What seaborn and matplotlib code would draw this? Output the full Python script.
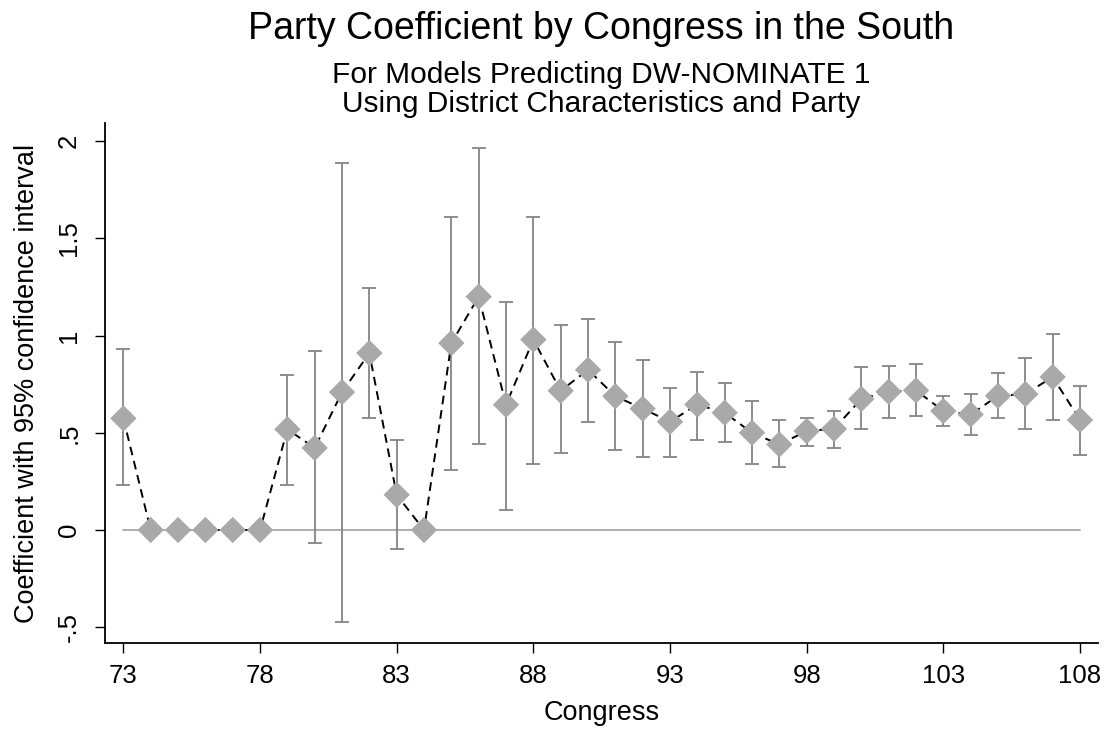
import numpy as np
import seaborn as sns
import matplotlib.pyplot as plt

# Congress numbers and estimated party coefficients
congress = list(range(73, 109))
coef = [0.574, 0, 0, 0, 0, 0, 0.518, 0.422, 0.709, 0.910, 0.181, 0,
        0.961, 1.200, 0.644, 0.979, 0.716, 0.824, 0.688, 0.624, 0.557, 0.645,
        0.603, 0.500, 0.440, 0.509, 0.520, 0.674, 0.711, 0.718, 0.612, 0.594,
        0.690, 0.699, 0.787, 0.566]
nan = np.nan
ci_low = [0.230, nan, nan, nan, nan, nan, 0.230, -0.067, -0.472, 0.574, -0.098, nan,
          0.307, 0.441, 0.105, 0.337, 0.394, 0.555, 0.411, 0.374, 0.374, 0.461,
          0.450, 0.337, 0.326, 0.431, 0.422, 0.518, 0.576, 0.585, 0.537, 0.489,
          0.576, 0.518, 0.566, 0.385]
ci_high = [0.931, nan, nan, nan, nan, nan, 0.796, 0.920, 1.887, 1.246, 0.461, nan,
           1.608, 1.965, 1.170, 1.608, 1.053, 1.083, 0.966, 0.872, 0.730, 0.814,
           0.757, 0.661, 0.566, 0.576, 0.613, 0.837, 0.844, 0.853, 0.690, 0.699,
           0.805, 0.885, 1.007, 0.739]
xticks = [73, 78, 83, 88, 93, 98, 103, 108]
yticks = [-0.5, 0, 0.5, 1, 1.5, 2]
ytick_labels = ["-.5", "0", ".5", "1", "1.5", "2"]

sns.set_style("white")
plt.rcParams['font.family'] = ['Liberation Sans', 'DejaVu Sans']
plt.rcParams['text.color'] = 'black'
plt.rcParams['axes.labelcolor'] = 'black'
plt.rcParams['xtick.color'] = 'black'
plt.rcParams['ytick.color'] = 'black'

fig = plt.figure(figsize=(11.07, 7.3), dpi=100)
ax = fig.add_axes([0.0949, 0.1192, 0.897, 0.7123])

coef_a = np.array(coef)
lo = np.array(ci_low)
hi = np.array(ci_high)

# zero reference line
ax.plot([congress[0], congress[-1]], [0, 0], color="#a8a8a8", lw=1.3,
        linestyle="-", zorder=1)

# confidence intervals
ax.errorbar(congress, coef_a, yerr=[coef_a - lo, hi - coef_a], fmt="none",
            ecolor="#858585", elinewidth=1.3, capsize=5, capthick=1.3, zorder=2)

# dashed connecting line
sns.lineplot(x=congress, y=coef, ax=ax, color="black", lw=1.4,
             linestyle=(0, (4.5, 3)), zorder=3)

# diamond markers
sns.scatterplot(x=congress, y=coef, ax=ax, marker="D", s=180, color="#a9a9a9",
                edgecolor="none", linewidth=0, zorder=4)

ax.set_xlim(72.33, 108.66)
ax.set_ylim(-0.581, 2.093)
ax.set_xticks(xticks)
ax.set_yticks(yticks)
ax.set_yticklabels(ytick_labels, rotation=90, va="center")
ax.tick_params(axis="both", direction="out", length=7.2, width=1,
               labelsize=18.5, left=True, bottom=True)
ax.tick_params(axis="x", pad=8)
ax.tick_params(axis="y", pad=10)

sns.despine(ax=ax)
for s in ["left", "bottom"]:
    ax.spines[s].set_color("black")
    ax.spines[s].set_linewidth(1.3)

ax.set_xlabel("Congress", fontsize=19.5, labelpad=8.5)
ax.set_ylabel("Coefficient with 95% confidence interval", fontsize=19.5,
              labelpad=12)

fig.text(0.543, 0.946, "Party Coefficient by Congress in the South",
         ha="center", va="baseline", fontsize=27)
fig.text(0.543, 0.886, "For Models Predicting DW-NOMINATE 1",
         ha="center", va="baseline", fontsize=21.5)
fig.text(0.543, 0.846, "Using District Characteristics and Party",
         ha="center", va="baseline", fontsize=21.5)

fig.savefig("out.png", dpi=100)
